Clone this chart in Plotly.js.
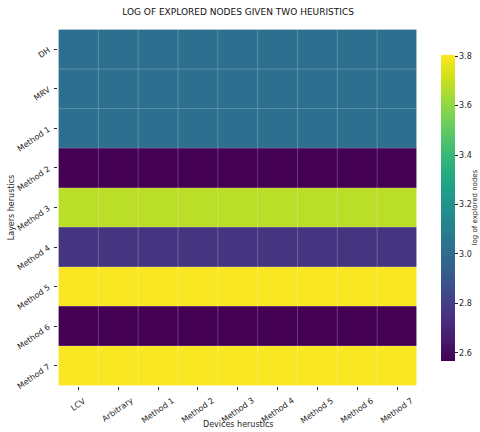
<!DOCTYPE html>
<html>
<head>
<meta charset="utf-8">
<script src="https://cdn.plot.ly/plotly-3.0.1.min.js"></script>
<style>
  html, body { margin: 0; padding: 0; background: #fff; }
  #chart { width: 480px; height: 432px; }
</style>
</head>
<body>
<div id="chart"></div>
<script>
// Column and row heuristics
const devices = ["LCV", "Arbitrary", "Method 1", "Method 2", "Method 3", "Method 4", "Method 5", "Method 6", "Method 7"];
const layers = ["DH", "MRV", "Method 1", "Method 2", "Method 3", "Method 4", "Method 5", "Method 6", "Method 7"];

// log10 of explored nodes for each layer heuristic (same for every device heuristic)
const logNodesByLayer = [3.02, 3.02, 3.02, 2.568, 3.68, 2.75, 3.80, 2.568, 3.80];

const colorMin = 2.568;
const colorMax = 3.805;
const cbTicks = [2.6, 2.8, 3.0, 3.2, 3.4, 3.6, 3.8];

const z = layers.map((_, r) => devices.map(() => logNodesByLayer[r]));

const FONT = "DejaVu Sans, sans-serif";
const TXT = "#262626";

const trace = {
  type: "heatmap",
  x: devices,
  y: layers,
  z: z,
  colorscale: "Viridis",
  zmin: colorMin,
  zmax: colorMax,
  hoverinfo: "skip",
  colorbar: {
    x: 1.064, xanchor: "left", xref: "paper",
    y: 0.499, yanchor: "middle",
    len: 0.857, lenmode: "fraction",
    xpad: 0, ypad: 0,
    thickness: 14,
    outlinewidth: 0,
    tickvals: cbTicks,
    ticktext: cbTicks.map(v => v.toFixed(1)),
    ticks: "outside", ticklen: 3, tickwidth: 1, tickcolor: TXT,
    tickfont: { family: FONT, size: 8, color: TXT }
  }
};

// faint cell-boundary grid drawn over the heatmap
const shapes = [];
for (let i = 0; i <= devices.length; i++) {
  shapes.push({ type: "line", xref: "x", yref: "paper", x0: i - 0.5, x1: i - 0.5, y0: 0, y1: 1,
    line: { color: "rgba(255,255,255,0.22)", width: 1 }, layer: "above" });
}
for (let j = 0; j <= layers.length; j++) {
  shapes.push({ type: "line", xref: "paper", yref: "y", x0: 0, x1: 1, y0: j - 0.5, y1: j - 0.5,
    line: { color: "rgba(255,255,255,0.22)", width: 1 }, layer: "above" });
}

// rotated column labels, centred under each tick
const annotations = devices.map(d => ({
  x: d, xref: "x", y: 0, yref: "paper",
  xanchor: "center", yanchor: "top", yshift: -7,
  textangle: -35, showarrow: false,
  text: d, font: { family: FONT, size: 8, color: TXT }
}));

// x-axis title below the column labels
annotations.push({
  x: 0.5, xref: "paper", y: 0, yref: "paper",
  xanchor: "center", yanchor: "middle", yshift: -38,
  showarrow: false, text: "Devices herustics",
  font: { family: FONT, size: 8, color: TXT }
});

// colour bar label, reading bottom to top at the right edge
annotations.push({
  x: 1.157, xref: "paper", y: 0.499, yref: "paper",
  xanchor: "center", yanchor: "middle",
  textangle: -90, showarrow: false, text: "log of explored nodes",
  font: { family: FONT, size: 7, color: TXT }
});

const layout = {
  width: 480, height: 432,
  margin: { l: 58, r: 62, t: 29, b: 46, pad: 0, autoexpand: false },
  paper_bgcolor: "#ffffff",
  plot_bgcolor: "#ffffff",
  font: { family: FONT, size: 8, color: TXT },
  title: {
    text: "LOG OF EXPLORED NODES GIVEN TWO HEURISTICS",
    font: { family: FONT, size: 9, color: "#111" },
    x: 0.496, xanchor: "center", y: 0.972, yanchor: "middle"
  },
  xaxis: {
    type: "category",
    ticks: "outside", ticklen: 3, tickcolor: TXT,
    showticklabels: false,
    showgrid: false, zeroline: false, showline: false
  },
  yaxis: {
    type: "category",
    autorange: "reversed",
    tickangle: -35,
    ticks: "outside", ticklen: 3, tickcolor: TXT,
    ticklabelstandoff: 4,
    tickfont: { family: FONT, size: 8, color: TXT },
    showgrid: false, zeroline: false, showline: false,
    title: { text: "Layers herustics", font: { family: FONT, size: 8, color: TXT }, standoff: 0 }
  },
  shapes: shapes,
  annotations: annotations
};

Plotly.newPlot("chart", [trace], layout, { staticPlot: true, displayModeBar: false });
</script>
</body>
</html>
